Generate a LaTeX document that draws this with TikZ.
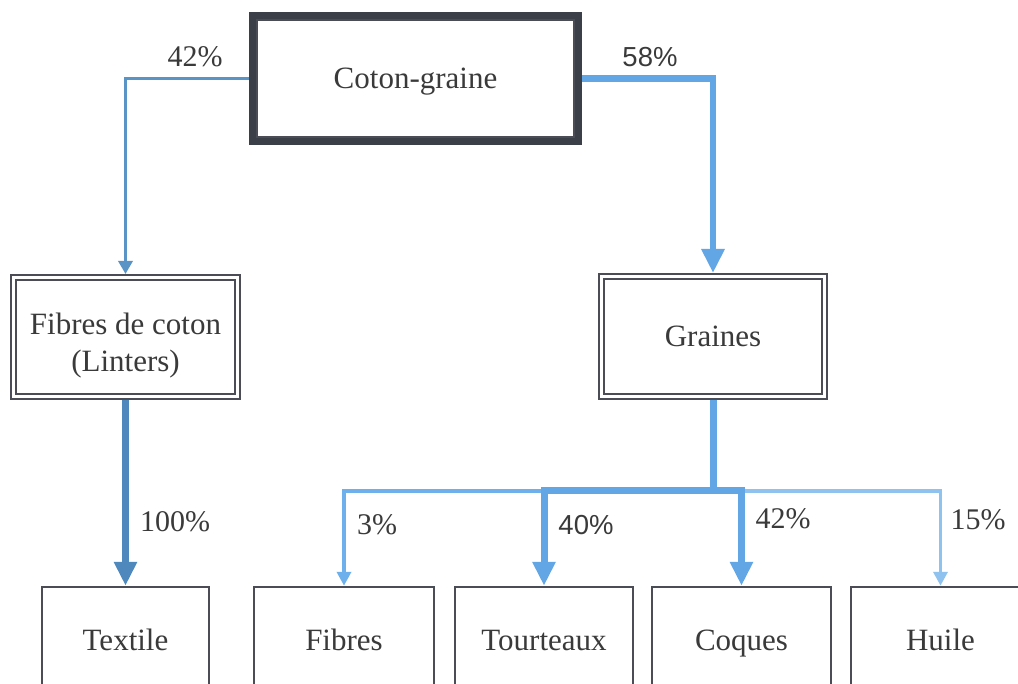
\documentclass[tikz,border=0pt]{standalone}
\usepackage{fontspec}
\setmainfont{Liberation Serif}
\newfontfamily\sanslab{Liberation Sans}
\usetikzlibrary{arrows.meta}
\definecolor{txtc}{HTML}{3A3A3A}
\definecolor{boxdark}{HTML}{3B3F47}
\definecolor{boxgray}{HTML}{4A4D55}
\definecolor{steel}{HTML}{4E88BC}
\definecolor{steelb}{HTML}{5A94C6}
\definecolor{brightb}{HTML}{62A6E6}
\definecolor{lightb}{HTML}{6DB0EC}
\definecolor{paleb}{HTML}{8FC2EF}
\tikzset{
  txt/.style={font=\fontsize{31}{37}\selectfont, text=txtc},
  lab/.style={font=\fontsize{30}{34}\selectfont, text=txtc, inner sep=0pt},
  slab/.style={font=\sanslab\fontsize{27.5}{32}\selectfont, text=txtc, inner sep=0pt},
  topbox/.style={draw=boxdark, line width=8pt, minimum width=325pt, minimum height=125pt, inner sep=0pt, text height=20pt, text depth=0pt, txt},
  dblbox/.style={draw=boxgray, line width=2pt, inner sep=0pt, align=center, txt},
  endbox/.style={draw=boxgray, line width=2.5pt, inner sep=0pt, minimum height=106pt, text height=20pt, text depth=0pt, txt},
  innerline/.style={draw=boxgray, line width=2pt},
  flowA/.style={draw=steelb, line width=3.5pt, -{Triangle[width=14pt,length=13pt]}},
  flowB/.style={draw=steel, line width=7.5pt, -{Triangle[width=22pt,length=24pt]}},
  flowC/.style={draw=brightb, line width=7pt, -{Triangle[width=22pt,length=24pt]}},
  flowD/.style={draw=lightb, line width=3.5pt, -{Triangle[width=14pt,length=14pt]}},
  flowE/.style={draw=paleb, line width=3.5pt, -{Triangle[width=14pt,length=14pt]}},
  trunk/.style={draw=brightb, line width=7pt},
}
\begin{document}
\begin{tikzpicture}[x=1pt,y=-1pt]
\useasboundingbox (0,0) rectangle (1018,684);
\fill[white] (0,0) rectangle (1018,684);

% boxes
\node[topbox] (cg) at (415.5,78.5) {Coton-graine};
\draw[draw=boxgray, line width=1.5pt] ([shift={(8pt,-8pt)}]cg.north west) rectangle ([shift={(-8pt,8pt)}]cg.south east);

\node[dblbox, minimum width=229pt, minimum height=124pt] (fib) at (125.5,337) {\rule{0pt}{38pt}Fibres de coton\\(Linters)};
\draw[innerline] ([shift={(6pt,-6pt)}]fib.north west) rectangle ([shift={(-6pt,6pt)}]fib.south east);

\node[dblbox, minimum width=228pt, minimum height=125pt] (gr) at (713,336.5) {Graines};
\draw[innerline] ([shift={(6pt,-6pt)}]gr.north west) rectangle ([shift={(-6pt,6pt)}]gr.south east);

\node[endbox, minimum width=167pt] (tex) at (125.5,640) {Textile};
\node[endbox, minimum width=180pt] (fb)  at (344,640) {Fibres};
\node[endbox, minimum width=178pt] (tou) at (544,640) {Tourteaux};
\node[endbox, minimum width=179pt] (coq) at (741.5,640) {Coques};
\node[endbox, minimum width=179pt] (hu)  at (940.5,640) {Huile};

% connectors
\draw[flowA] (cg.west) -| (fib.north);
\draw[flowC, line width=6.5pt] (cg.east) -| (gr.north);
\draw[flowB] (fib.south) -- (tex.north);

\coordinate (j) at (713,491);
\draw[trunk] (gr.south) -- ([yshift=-3.5pt]j);
\draw[flowD] (j) -| (fb.north);
\draw[flowE] (j) -| (hu.north);
\draw[flowC] (j) -| (tou.north);
\draw[flowC] (j) -| (coq.north);

% labels
\node[lab]  (l42a) at (195,57) {42\%};
\node[slab] (l58)  at (650,57) {58\%};
\node[lab]  (l100) at (175,522) {100\%};
\node[lab]  (l3)   at (377,525) {3\%};
\node[slab] (l40)  at (586,525) {40\%};
\node[lab]  (l42b) at (783,519) {42\%};
\node[lab]  (l15)  at (978,520) {15\%};
\end{tikzpicture}
\end{document}
